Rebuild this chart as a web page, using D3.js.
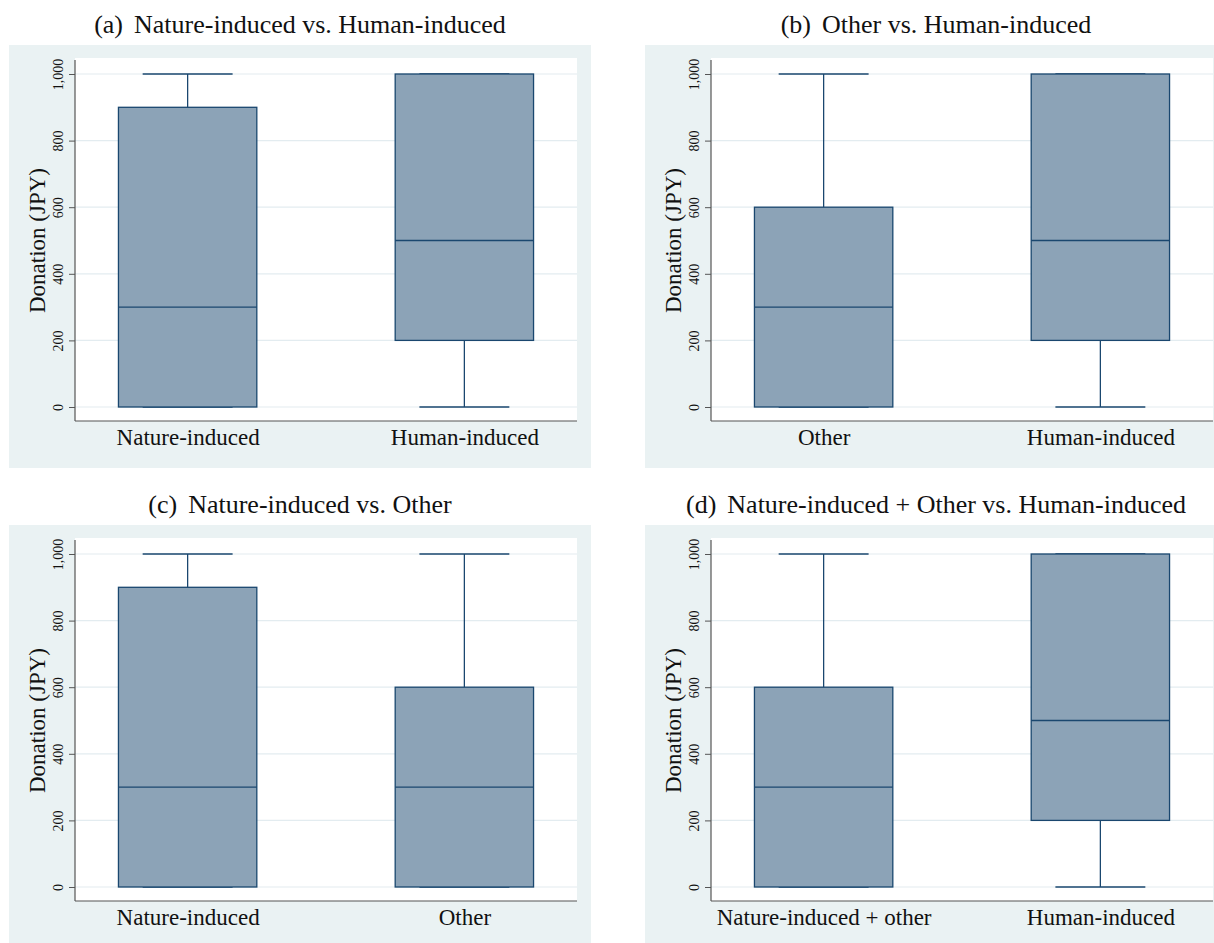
<!DOCTYPE html>
<html>
<head>
<meta charset="utf-8">
<script src="https://cdn.jsdelivr.net/npm/d3@7"></script>
<style>
  html, body { margin: 0; padding: 0; background: #ffffff; }
  svg { display: block; }
  svg text { font-family: "Liberation Serif", "Tinos", "Times New Roman", Times, "DejaVu Serif", "Noto Serif", serif; fill: #111; }
</style>
</head>
<body>
<svg id="chart" width="1214" height="943"></svg>
<script>
// ---- Data ----
const panelLetters = ["(a)", "(b)", "(c)", "(d)"];
const panelTitles = [
  "Nature-induced vs. Human-induced",
  "Other vs. Human-induced",
  "Nature-induced vs. Other",
  "Nature-induced + Other vs. Human-induced"
];
const panelCategories = [
  ["Nature-induced", "Human-induced"],
  ["Other", "Human-induced"],
  ["Nature-induced", "Other"],
  ["Nature-induced + other", "Human-induced"]
];
// five-number summaries [min, q1, median, q3, max] per group
const natureStats = [0, 0, 300, 900, 1000];
const humanStats  = [0, 200, 500, 1000, 1000];
const otherStats  = [0, 0, 300, 600, 1000];
const natureOtherStats = [0, 0, 300, 600, 1000];
const panelStats = [
  [natureStats, humanStats],
  [otherStats, humanStats],
  [natureStats, otherStats],
  [natureOtherStats, humanStats]
];
const yTicks = [0, 200, 400, 600, 800, 1000];
const yLabel = "Donation (JPY)";

// ---- Layout ----
const svg = d3.select("#chart");
const panelOrigins = [[9, 45], [645, 45], [9, 525], [645, 525]];
const panelW = 582, panelH = 423;
const plotLeft = 66, plotTop = 13, plotW = 502, plotH = 363;
const serif = "'Liberation Serif', 'Tinos', 'Times New Roman', Times, 'DejaVu Serif', 'Noto Serif', serif";

const colors = {
  bg: "#eaf2f3",
  fill: "#8ca3b7",
  line: "#1a476f",
  grid: "#e3ecf0",
  axis: "#555"
};

const fmt = d3.format(",");

panelTitles.forEach((title, i) => {
  const [px, py] = panelOrigins[i];
  const g = svg.append("g").attr("transform", `translate(${px},${py})`);

  g.append("rect").attr("width", panelW).attr("height", panelH).attr("fill", colors.bg);

  const t = svg.append("text")
    .attr("x", px + panelW / 2).attr("y", py - 12)
    .attr("text-anchor", "middle")
    .style("font-family", serif)
    .style("font-size", "26px");
  t.append("tspan").text(panelLetters[i]);
  t.append("tspan").attr("dx", 11).text(title);

  const plot = g.append("g").attr("transform", `translate(${plotLeft},${plotTop})`);
  plot.append("rect").attr("width", plotW).attr("height", plotH).attr("fill", "#fff");

  const y = d3.scaleLinear().domain([0, 1000]).range([349, 16]);
  const x = d3.scalePoint().domain(panelCategories[i]).range([0, plotW]).padding(0.407);
  const boxW = x.step() * 0.5;
  const capW = boxW * 0.65;

  // gridlines
  plot.selectAll("line.grid").data(yTicks).enter().append("line")
    .attr("class", "grid")
    .attr("x1", 0).attr("x2", plotW)
    .attr("y1", d => y(d)).attr("y2", d => y(d))
    .attr("stroke", colors.grid).attr("stroke-width", 1.2);

  // boxes
  panelCategories[i].forEach((cat, j) => {
    const s = panelStats[i][j];
    const cx = x(cat);
    const bg = plot.append("g");
    bg.append("line").attr("x1", cx).attr("x2", cx).attr("y1", y(s[3])).attr("y2", y(s[4]))
      .attr("stroke", colors.line).attr("stroke-width", 1.3);
    bg.append("line").attr("x1", cx).attr("x2", cx).attr("y1", y(s[1])).attr("y2", y(s[0]))
      .attr("stroke", colors.line).attr("stroke-width", 1.3);
    [s[0], s[4]].forEach(v => {
      bg.append("line").attr("x1", cx - capW / 2).attr("x2", cx + capW / 2)
        .attr("y1", y(v)).attr("y2", y(v))
        .attr("stroke", colors.line).attr("stroke-width", 1.3);
    });
    bg.append("rect")
      .attr("x", cx - boxW / 2).attr("width", boxW)
      .attr("y", y(s[3])).attr("height", y(s[1]) - y(s[3]))
      .attr("fill", colors.fill).attr("stroke", colors.line).attr("stroke-width", 1.3);
    bg.append("line").attr("x1", cx - boxW / 2).attr("x2", cx + boxW / 2)
      .attr("y1", y(s[2])).attr("y2", y(s[2]))
      .attr("stroke", colors.line).attr("stroke-width", 1.3);
  });

  // y axis
  const yAxis = d3.axisLeft(y).tickValues(yTicks).tickSize(6).tickPadding(4).tickFormat(fmt);
  const ya = plot.append("g").call(yAxis);
  ya.attr("font-family", null);
  ya.select(".domain").attr("d", `M0,2V${plotH}`).attr("stroke", colors.axis).attr("stroke-width", 1.2);
  ya.selectAll(".tick line").attr("stroke", colors.axis).attr("stroke-width", 1);
  ya.selectAll(".tick text")
    .attr("x", null).attr("dy", null)
    .attr("text-anchor", "middle")
    .attr("transform", "translate(-12,0) rotate(-90)")
    .style("font-size", "14px")
    .style("font-family", serif)
    .attr("fill", "#111");

  // x axis
  const xAxis = d3.axisBottom(x).tickSize(0).tickPadding(0);
  const xa = plot.append("g").attr("transform", `translate(0,${plotH})`).call(xAxis);
  xa.attr("font-family", null);
  xa.select(".domain").attr("d", `M0,0H${plotW}`).attr("stroke", colors.axis).attr("stroke-width", 1.2);
  xa.selectAll(".tick text")
    .attr("y", 24).attr("dy", null)
    .style("font-size", "23px")
    .style("font-family", serif)
    .attr("fill", "#111");

  // y label
  g.append("text")
    .attr("transform", `translate(36,${plotTop + (349 + 16) / 2}) rotate(-90)`)
    .attr("text-anchor", "middle")
    .style("font-family", serif)
    .style("font-size", "23px")
    .text(yLabel);
});
</script>
</body>
</html>
